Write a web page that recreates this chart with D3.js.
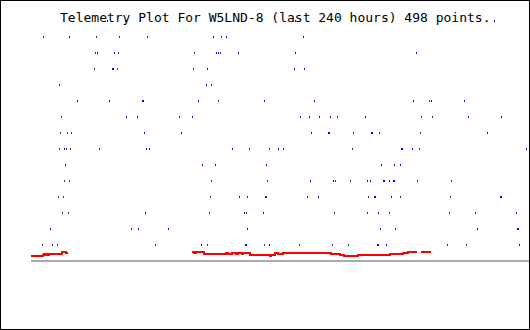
<!DOCTYPE html>
<html>
<head>
<meta charset="utf-8">
<script src="https://cdn.jsdelivr.net/npm/d3@7/dist/d3.min.js"></script>
<style>
  html, body { margin: 0; padding: 0; background: #fff; }
  svg { display: block; }
</style>
</head>
<body>
<svg id="chart" width="530" height="330"></svg>
<script>
// Title of the telemetry plot
const titleText = "Telemetry Plot For W5LND-8 (last 240 hours) 498 points.";

// Sample index (0..498 across the 240 hours) and quantised level for each channel reading
const bluePoints = [
  // level 15
  [76,15],[94,15],[109,15],[264,15],[463,15],
  // level 14
  [12,14],[38,14],[116,14],[182,14],[195,14],[272,14],
  // level 13
  [66,13],[83,13],[185,13],[187,13],[207,13],[264,13],[385,13],
  // level 12
  [81,12],[82,12],[176,12],[263,12],[273,12],
  // level 11
  [28,11],[175,11],[180,11],
  // level 10
  [46,10],[78,10],[111,10],[112,10],[167,10],[233,10],[283,10],[382,10],[400,10],[433,10],
  // level 9
  [95,9],[106,9],[148,9],[161,9],[269,9],[278,9],[288,9],[299,9],[334,9],[437,9],[470,9],
  // level 8
  [113,8],[150,8],[280,8],[297,8],[298,8],[340,8],[341,8],[348,8],[456,8],
  // level 7
  [33,7],[68,7],[115,7],[118,7],[201,7],[247,7],[252,7],[370,7],[371,7],[381,7],[495,7],
  // level 6
  [34,6],[171,6],[184,6],[235,6],[350,6],[363,6],[369,6],
  // level 5
  [279,5],[302,5],[336,5],[339,5],[352,5],[353,5],[358,5],[362,5],[363,5],
  // level 4
  [208,4],[234,4],[276,4],[287,4],[343,4],[344,4],[360,4],[469,4],[470,4],
  // level 3
  [114,3],[213,3],[232,3],[347,3],[444,3],[485,3],
  // level 2
  [19,2],[100,2],[107,2],[137,2],[216,2],[349,2],[364,2],[446,2],[486,2],[487,2],
  // level 1
  [21,1],[124,1],[170,1],[214,1],[215,1],[238,1],[346,1],[347,1],[355,1],[488,1]
];

const grayPoints = [
  [65,14],[88,14],[190,14],
  [64,13],[87,13],[163,13],[189,13],
  [63,12],[86,12],[162,12],
  [187,10],[398,10],
  [30,9],[306,9],[390,9],[401,9],
  [29,8],[36,8],[40,8],[322,8],[389,8],
  [28,7],[35,7],[39,7],[218,7],[238,7],[321,7],[388,7],
  [33,5],[38,5],[180,5],[236,5],[304,5],[319,5],[386,5],[420,5],
  [27,4],[32,4],[179,4],[216,4],[235,4],[337,4],[369,4],[419,4],
  [31,3],[37,3],[178,3],[215,3],[303,3],[336,3],[358,3],[418,3],
  [11,1],[26,1],[176,1],[233,1],[268,1],[301,1],[317,1],[416,1],[435,1]
];

// Continuous channel: [sample, value]; null marks a gap in the record
const redSeries = [
  [0,4],[12,5],[13,6],[14,5],[15,6],[16,5],[18,6],[31,8],[35,7],[37,7],
  null,
  [161,8],[163,7],[165,8],[173,6],[195,7],[197,6],[201,7],[205,6],[207,7],
  [211,6],[212,7],[219,5],[239,4],[240,5],[244,7],[247,6],[252,7],[300,6],
  [309,5],[313,4],[327,5],[359,6],[372,7],[377,8],[386,8],
  null,
  [390,8],[400,8]
];

const svg = d3.select("#chart");
const W = 530, H = 330;

// Plot area: 498 samples across, baseline at y=260
const x = d3.scaleLinear().domain([0, 498]).range([31, 529]);
const yLevel = d3.scaleLinear().domain([0, 15]).range([260, 20]);
const yRed = d3.scaleLinear().domain([0, 240]).range([260, 20]);

svg.append("rect")
  .attr("x", 0).attr("y", 0).attr("width", W).attr("height", H)
  .attr("fill", "#fff");

// Title
svg.append("text")
  .attr("x", 60).attr("y", 22)
  .attr("font-family", "'DejaVu Sans Mono', monospace")
  .attr("font-size", 13)
  .attr("fill", "#000")
  .text(titleText);

// Dot channels
svg.append("g").selectAll("rect")
  .data(grayPoints)
  .join("rect")
  .attr("x", d => Math.round(x(d[0])))
  .attr("y", d => Math.round(yLevel(d[1])))
  .attr("width", 1).attr("height", 2)
  .attr("shape-rendering", "crispEdges")
  .attr("fill", "#404040");

svg.append("g").selectAll("rect")
  .data(bluePoints)
  .join("rect")
  .attr("x", d => Math.round(x(d[0])))
  .attr("y", d => Math.round(yLevel(d[1])))
  .attr("width", 1).attr("height", 2)
  .attr("shape-rendering", "crispEdges")
  .attr("fill", "#0000ff");

// Baseline
svg.append("rect")
  .attr("x", x(0)).attr("y", yLevel(0))
  .attr("width", x(498) - x(0)).attr("height", 2)
  .attr("shape-rendering", "crispEdges")
  .attr("fill", "#aaaaaa");

// Continuous channel as a stepped line
const line = d3.line()
  .defined(d => d !== null)
  .x(d => x(d[0]))
  .y(d => yRed(d[1]))
  .curve(d3.curveStepAfter);

svg.append("path")
  .attr("d", line(redSeries))
  .attr("fill", "none")
  .attr("stroke", "#ff0000")
  .attr("stroke-width", 2)
  .attr("shape-rendering", "crispEdges");

// Frame
svg.append("rect")
  .attr("x", 0.5).attr("y", 0.5).attr("width", W - 1).attr("height", H - 1)
  .attr("fill", "none")
  .attr("stroke", "#000")
  .attr("stroke-width", 1)
  .attr("shape-rendering", "crispEdges");
</script>
</body>
</html>
